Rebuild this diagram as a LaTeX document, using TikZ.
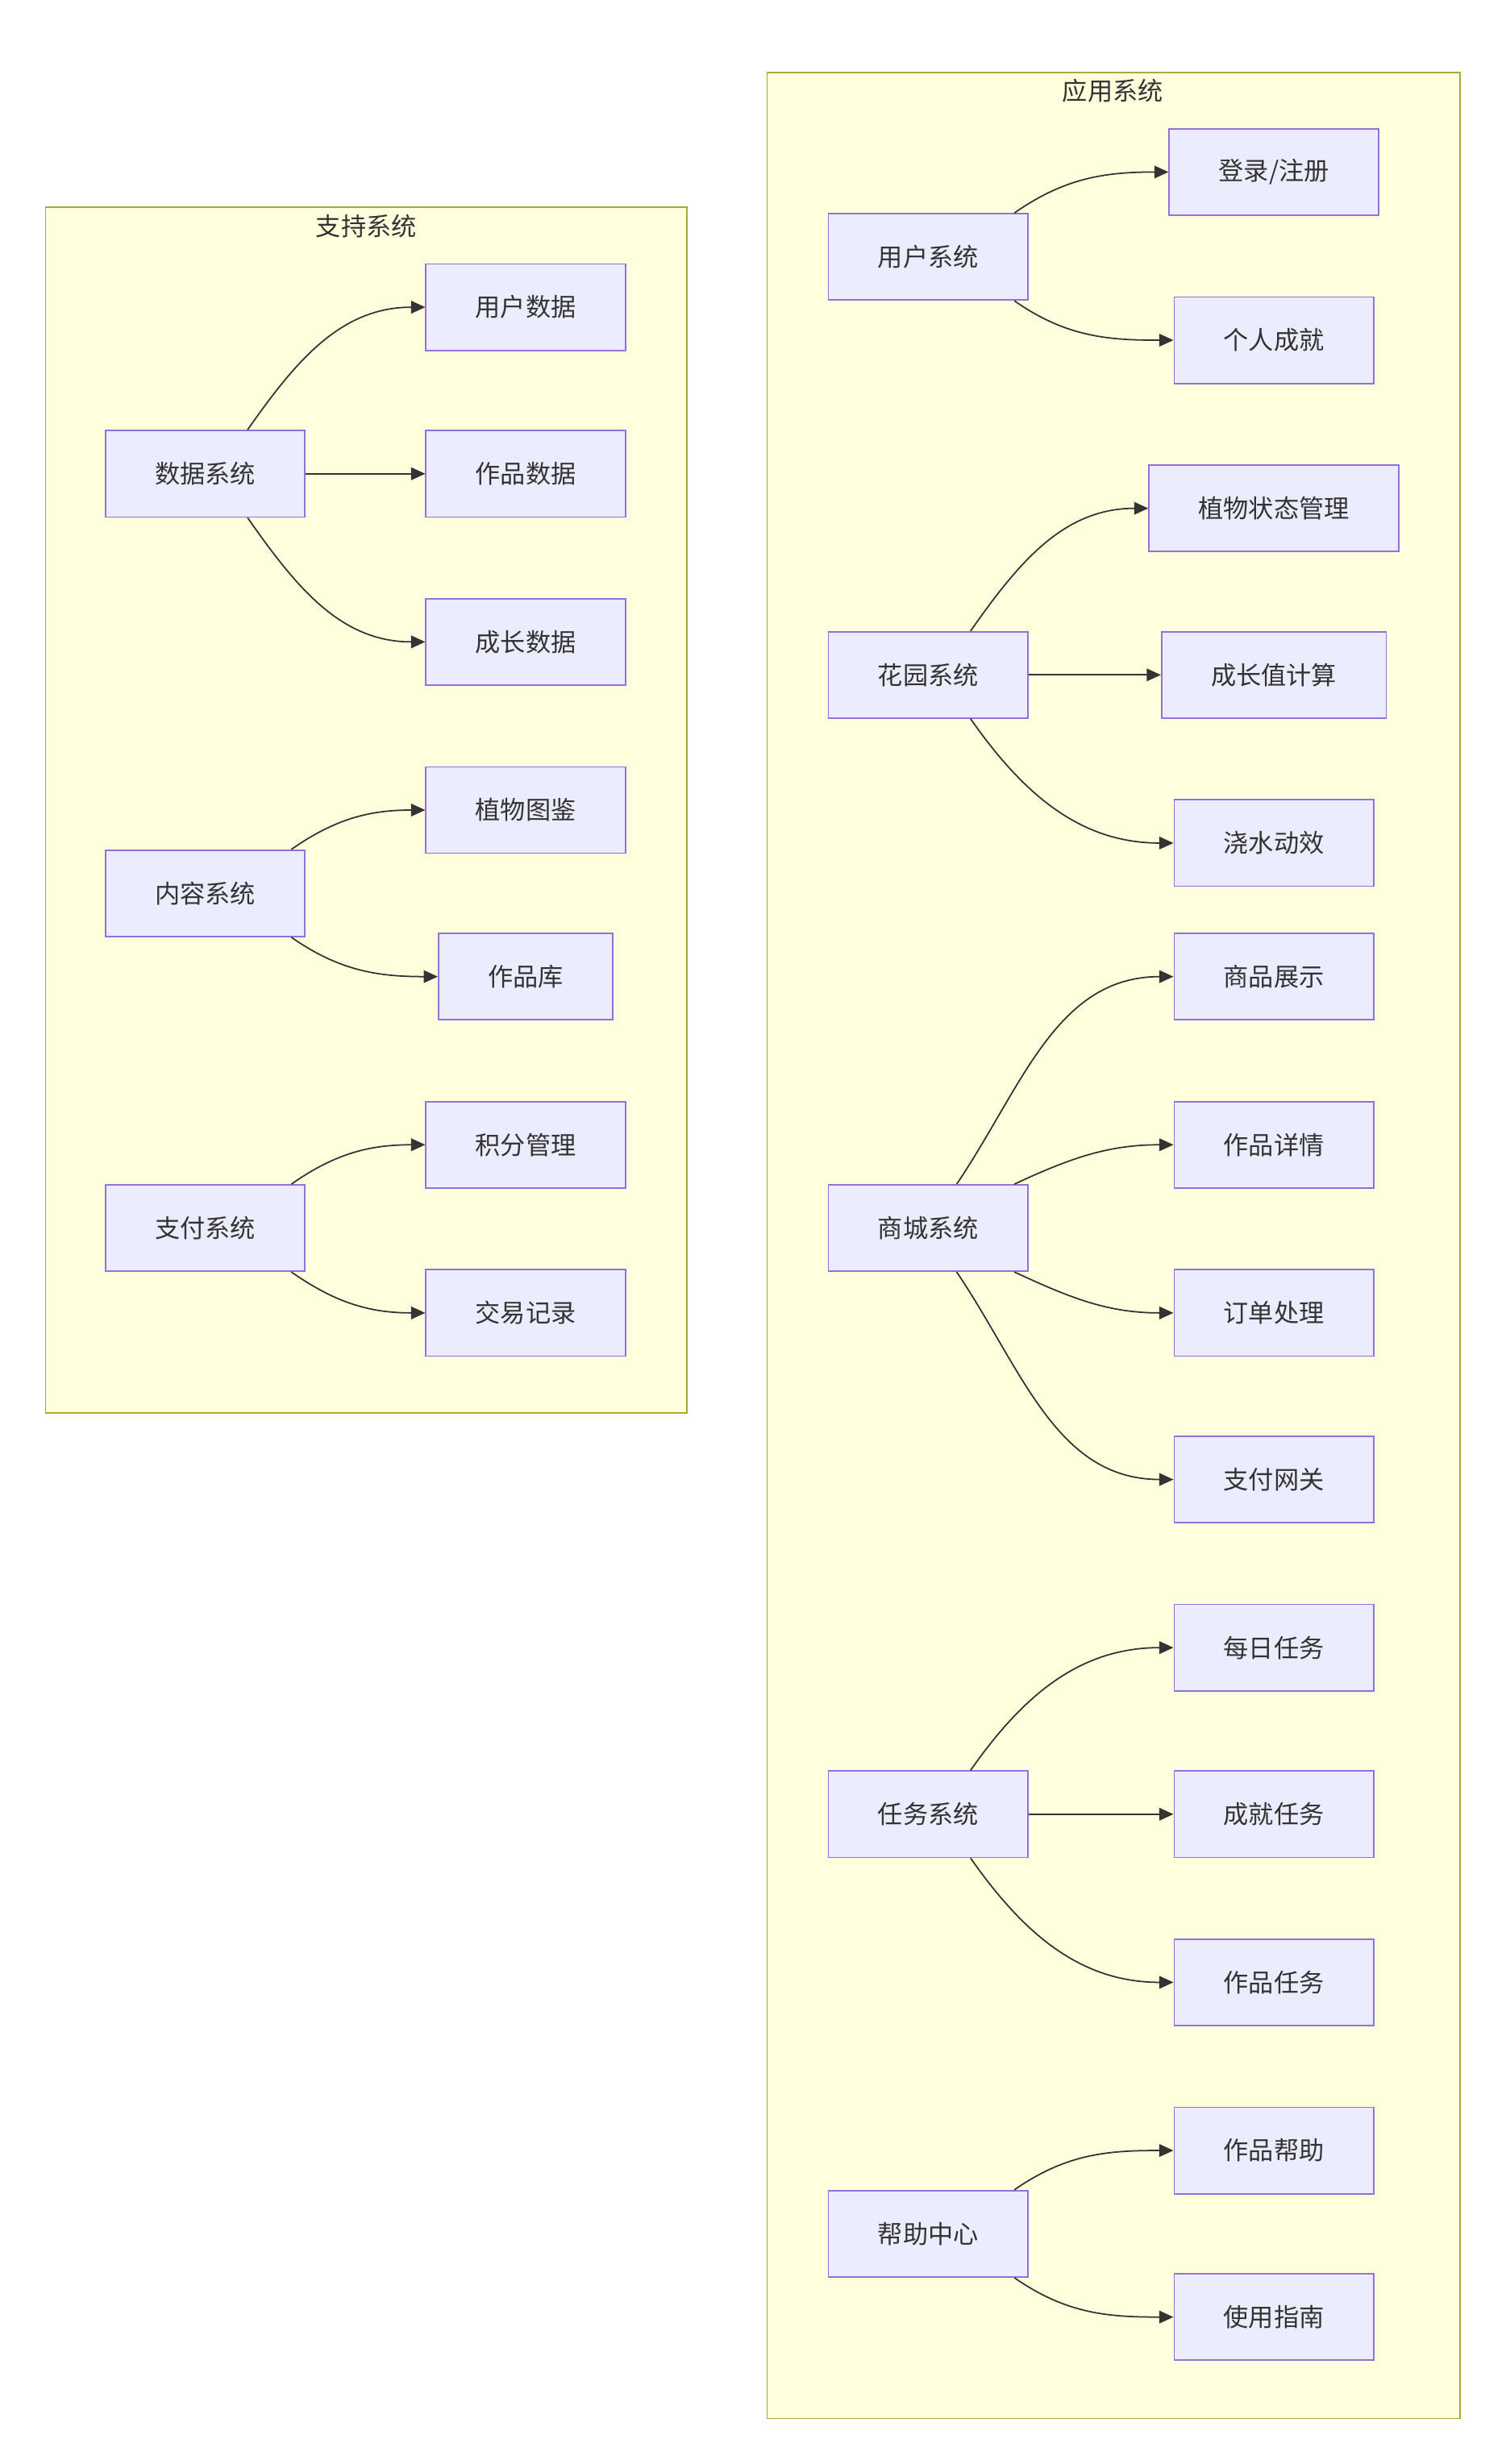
\documentclass[tikz,border=0pt]{standalone}
\usepackage{fontspec}
\setmainfont{Noto Sans CJK SC}
\usetikzlibrary{arrows.meta}
\definecolor{boxfill}{HTML}{ECECFF}
\definecolor{boxline}{HTML}{9370DB}
\definecolor{grpfill}{HTML}{FFFFDE}
\definecolor{grpline}{HTML}{AAAA33}
\definecolor{ink}{HTML}{333333}
\begin{document}
\begin{tikzpicture}[x=1pt,y=1pt,
    box/.style={shape=rectangle,draw=boxline,fill=boxfill,line width=0.9pt,
      minimum height=55pt,inner xsep=31.5pt,text=ink,font=\fontsize{16}{19}\selectfont},
    group/.style={draw=grpline,fill=grpfill,line width=0.9pt},
    grouptitle/.style={text=ink,inner sep=0pt,font=\fontsize{16}{19}\selectfont},
    link/.style={draw=ink,line width=0.9pt,-{Triangle[length=9pt,width=8pt]}}]
  \useasboundingbox (0,0) rectangle (958,1568);
  % clusters
  \draw[group] (29,669) rectangle (437,1436);
  \node[grouptitle] (support) at (233,1424) {支持系统};
  \draw[group] (488,29) rectangle (929,1522);
  \node[grouptitle] (apps) at (708,1510) {应用系统};
  % support system
  \draw
    (130.5,1266.5) node[box] (ds){数据系统}
    (334.5,1372.5) node[box] (ud){用户数据}
    (334.5,1266.5) node[box] (wd){作品数据}
    (334.5,1159.5) node[box] (gd){成长数据}
    (130.5,999.5) node[box] (cs){内容系统}
    (334.5,1052.5) node[box] (pc){植物图鉴}
    (334.5,946.5) node[box] (wk){作品库}
    (130.5,786.5) node[box] (ps){支付系统}
    (334.5,839.5) node[box] (jf){积分管理}
    (334.5,732.5) node[box] (jy){交易记录};
  % application system
  \draw
    (590.5,1404.5) node[box] (us){用户系统}
    (810.5,1458.5) node[box] (dl){登录/注册}
    (810.5,1351.5) node[box] (gr){个人成就}
    (590.5,1138.5) node[box] (gs){花园系统}
    (810.5,1244.5) node[box] (zw){植物状态管理}
    (810.5,1138.5) node[box] (cz){成长值计算}
    (810.5,1031.5) node[box] (js){浇水动效}
    (590.5,786.5) node[box] (sc){商城系统}
    (810.5,946.5) node[box] (sp){商品展示}
    (810.5,839.5) node[box] (xq){作品详情}
    (810.5,732.5) node[box] (dd){订单处理}
    (810.5,626.5) node[box] (wg){支付网关}
    (590.5,413.5) node[box] (rw){任务系统}
    (810.5,519.5) node[box] (mr){每日任务}
    (810.5,413.5) node[box] (cj){成就任务}
    (810.5,306.5) node[box] (zp){作品任务}
    (590.5,146.5) node[box] (bz){帮助中心}
    (810.5,199.5) node[box] (zb){作品帮助}
    (810.5,93.5) node[box] (sy){使用指南};
  \begin{scope}[link]
    \draw (ds.46) to[out=55,in=180] (ud.west);
    \draw (ds.east) -- (wd.west);
    \draw (ds.-46) to[out=-55,in=180] (gd.west);
    \draw (cs.27) to[out=35,in=180] (pc.west);
    \draw (cs.-27) to[out=-35,in=180] (wk.west);
    \draw (ps.27) to[out=35,in=180] (jf.west);
    \draw (ps.-27) to[out=-35,in=180] (jy.west);
    \draw (us.27) to[out=35,in=180] (dl.west);
    \draw (us.-27) to[out=-35,in=180] (gr.west);
    \draw (gs.46) to[out=55,in=180] (zw.west);
    \draw (gs.east) -- (cz.west);
    \draw (gs.-46) to[out=-55,in=180] (js.west);
    \draw (sc.57.5) to[out=56,in=180] (sp.west);
    \draw (sc.27) to[out=25,in=180] (xq.west);
    \draw (sc.-27) to[out=-25,in=180] (dd.west);
    \draw (sc.-57.5) to[out=-56,in=180] (wg.west);
    \draw (rw.46) to[out=55,in=180] (mr.west);
    \draw (rw.east) -- (cj.west);
    \draw (rw.-46) to[out=-55,in=180] (zp.west);
    \draw (bz.27) to[out=35,in=180] (zb.west);
    \draw (bz.-27) to[out=-35,in=180] (sy.west);
  \end{scope}
\end{tikzpicture}
\end{document}
